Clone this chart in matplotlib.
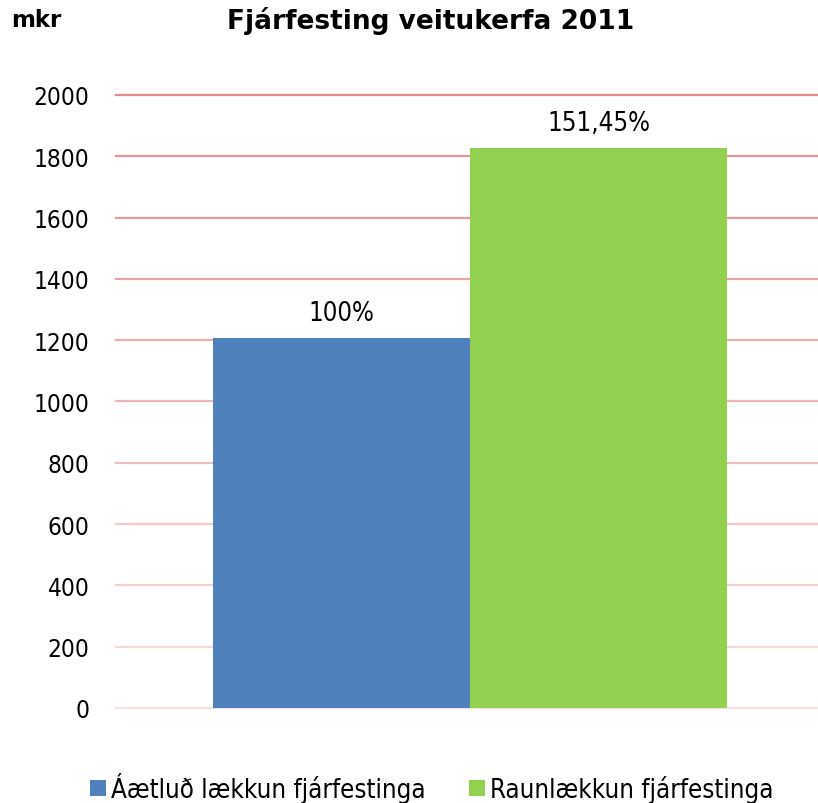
import numpy as np
import matplotlib
matplotlib.use("Agg")
import matplotlib.pyplot as plt
from matplotlib.colors import to_rgb

plt.rcParams['font.family'] = ['DejaVu Sans']
plt.rcParams['font.stretch'] = 'condensed'

# data
series = ['Áætluð lækkun fjárfestinga', 'Raunlækkun fjárfestinga']
values = [1207, 1828]
labels = ['100%', '151,45%']
colors = ['#4F81BD', '#92D050']
yticks = [0, 200, 400, 600, 800, 1000, 1200, 1400, 1600, 1800, 2000]

fig = plt.figure(figsize=(8.18, 8.04), dpi=100)
ax = fig.add_axes([0.1418, 0.1182, 0.8582, 0.7624])

# gridlines fade from red at top to pale pink at bottom
top_c = np.array(to_rgb('#E58C8A'))
bot_c = np.array(to_rgb('#F8E0E0'))
for y in yticks:
    f = y / yticks[-1]
    c = bot_c + (top_c - bot_c) * f
    ax.axhline(y, color=c, lw=1.6, zorder=0, clip_on=False)

width = 0.366
xs = [-width / 2, width / 2]
for x, v, lab, c, name in zip(xs, values, labels, colors, series):
    ax.bar(x, v, width=width, color=c, label=name, zorder=2)
    ax.text(x, v + 38, lab, ha='center', va='bottom', fontsize=18.5)

ax.set_xlim(-0.5043, 0.4957)
ax.set_ylim(0, 2000)
ax.set_yticks(yticks)
ax.set_xticks([])
ax.tick_params(axis='y', length=0, pad=19, labelsize=17.5)
for s in ax.spines.values():
    s.set_visible(False)

fig.text(0.526, 0.974, 'Fjárfesting veitukerfa 2011', ha='center', va='center',
         fontsize=19, fontweight='bold', fontstretch='normal')
fig.text(0.014, 0.974, 'mkr', ha='left', va='center', fontsize=16.5,
         fontweight='bold', fontstretch='normal')

fig.legend(loc='center', bbox_to_anchor=(0.528, 0.019), ncol=2, frameon=False,
           fontsize=18.5, handlelength=0.6, handleheight=0.6, handletextpad=0.2,
           columnspacing=1.7)

fig.savefig('out.png', dpi=100)
